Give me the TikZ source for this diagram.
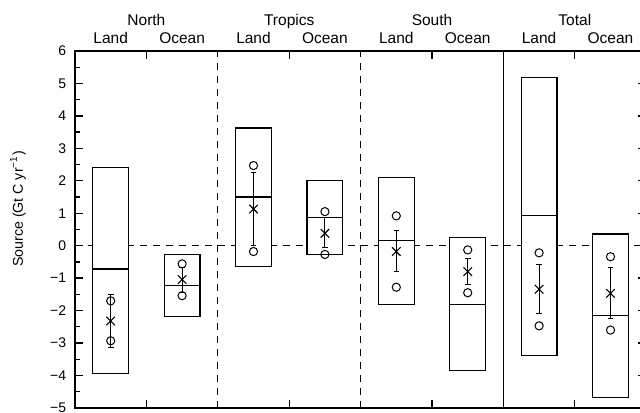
\documentclass[tikz,border=0pt]{standalone}
\usepackage{fontspec}
\setmainfont{Liberation Sans}
\usetikzlibrary{shapes.misc}

\tikzset{
  frame/.style={line width=0.65pt},
  divider/.style={line width=0.6pt, dash pattern=on 3.5pt off 3pt},
  zeroline/.style={line width=0.6pt, dash pattern=on 3.5pt off 3pt},
  fluxbox/.style={draw, fill=white, line width=0.6pt},
  errbar/.style={line width=0.5pt},
  obs/.style={circle, draw, line width=0.5pt, inner sep=0pt, minimum size=4.1pt},
  mean/.style={cross out, draw, line width=0.55pt, inner sep=0pt, minimum size=3.7pt},
  ticklabel/.style={anchor=east, inner sep=0pt, font=\fontsize{7}{8}\selectfont},
  head/.style={anchor=base, inner sep=0pt, font=\fontsize{7.75}{9}\selectfont},
  axlabel/.style={inner sep=0pt, font=\fontsize{7.1}{8}\selectfont}
}

\begin{document}
\begin{tikzpicture}[x=35.7pt, y=16.225pt]
\useasboundingbox (-1.0504,-5.125) rectangle (7.9132,7.5715);
\clip (-1.0504,-5.125) rectangle (7.9132,7.5715);

% zero line and region dividers
\draw[zeroline] (0,0) -- (8,0);
\draw[divider] (2,-5) -- (2,6);
\draw[divider] (4,-5) -- (4,6);
\draw[frame] (6,-5) -- (6,6);

% boxes with estimates
\foreach \xc/\hi/\lo/\md/\ca/\cb/\cr/\ta/\tb [count=\n] in {
    0.5/2.42/-3.93/-0.72/-1.70/-2.93/-2.32/-1.49/-3.14,
    1.5/-0.27/-2.17/-1.22/-0.56/-1.54/-1.04/-0.66/-1.44,
    2.5/3.63/-0.63/1.50/2.47/-0.18/1.13/2.25/0.02,
    3.5/2.00/-0.26/0.87/1.05/-0.27/0.38/0.86/-0.06,
    4.5/2.11/-1.81/0.155/0.92/-1.28/-0.18/0.48/-0.78,
    5.5/0.26/-3.85/-1.81/-0.13/-1.45/-0.80/-0.39/-1.21,
    6.5/5.19/-3.38/0.92/-0.22/-2.47/-1.34/-0.59/-2.10,
    7.5/0.36/-4.69/-2.15/-0.34/-2.60/-1.47/-0.67/-2.23} {
  \draw[fluxbox] (\xc-0.25,\lo) rectangle (\xc+0.25,\hi);
  \draw[fluxbox] (\xc-0.25,\md) -- (\xc+0.25,\md);
  \draw[errbar] (\xc,\ta) -- (\xc,\tb);
  \draw[errbar] ([xshift=-1.4pt]\xc,\ta) -- ([xshift=1.4pt]\xc,\ta);
  \draw[errbar] ([xshift=-1.4pt]\xc,\tb) -- ([xshift=1.4pt]\xc,\tb);
  \node[obs] (up\n) at (\xc,\ca) {};
  \node[obs] (dn\n) at (\xc,\cb) {};
  \node[mean] (mn\n) at (\xc,\cr) {};
}

% frame and ticks
\draw[frame] (0,-5) rectangle (8,6);
\foreach \y in {-5,...,6} {
  \draw[frame] (0,\y) -- ++(4pt,0);
  \draw[frame] (8,\y) -- ++(-4pt,0);
}
\foreach \y in {-4.5,-3.5,...,5.5} {
  \draw[frame] (0,\y) -- ++(2.5pt,0);
  \draw[frame] (8,\y) -- ++(-2.5pt,0);
}
\foreach \x in {1,3,5,7} {
  \draw[frame] (\x,6) -- ++(0,-4pt);
  \draw[frame] (\x,-5) -- ++(0,4pt);
}

% tick labels
\foreach \y in {0,...,6}
  \node[ticklabel] (yl\y) at ([xshift=-4.2pt]0,\y) {\y};
\foreach \y in {1,...,5}
  \node[ticklabel] (ym\y) at ([xshift=-4.2pt]0,-\y) {−\y};

% headers
\foreach \x/\name in {1/North,3/Tropics,5/South,7/Total}
  \node[head] (\name) at (\x,6.80) {\name};
\foreach \x in {0,2,4,6} {
  \node[head] (land\x) at (\x+0.5,6.22) {Land};
  \node[head] (ocean\x) at (\x+1.5,6.22) {Ocean};
}

\node[axlabel, rotate=90] (ylab) at (-0.80,1.13) {Source (Gt C yr\textsuperscript{−1})};
\end{tikzpicture}
\end{document}
